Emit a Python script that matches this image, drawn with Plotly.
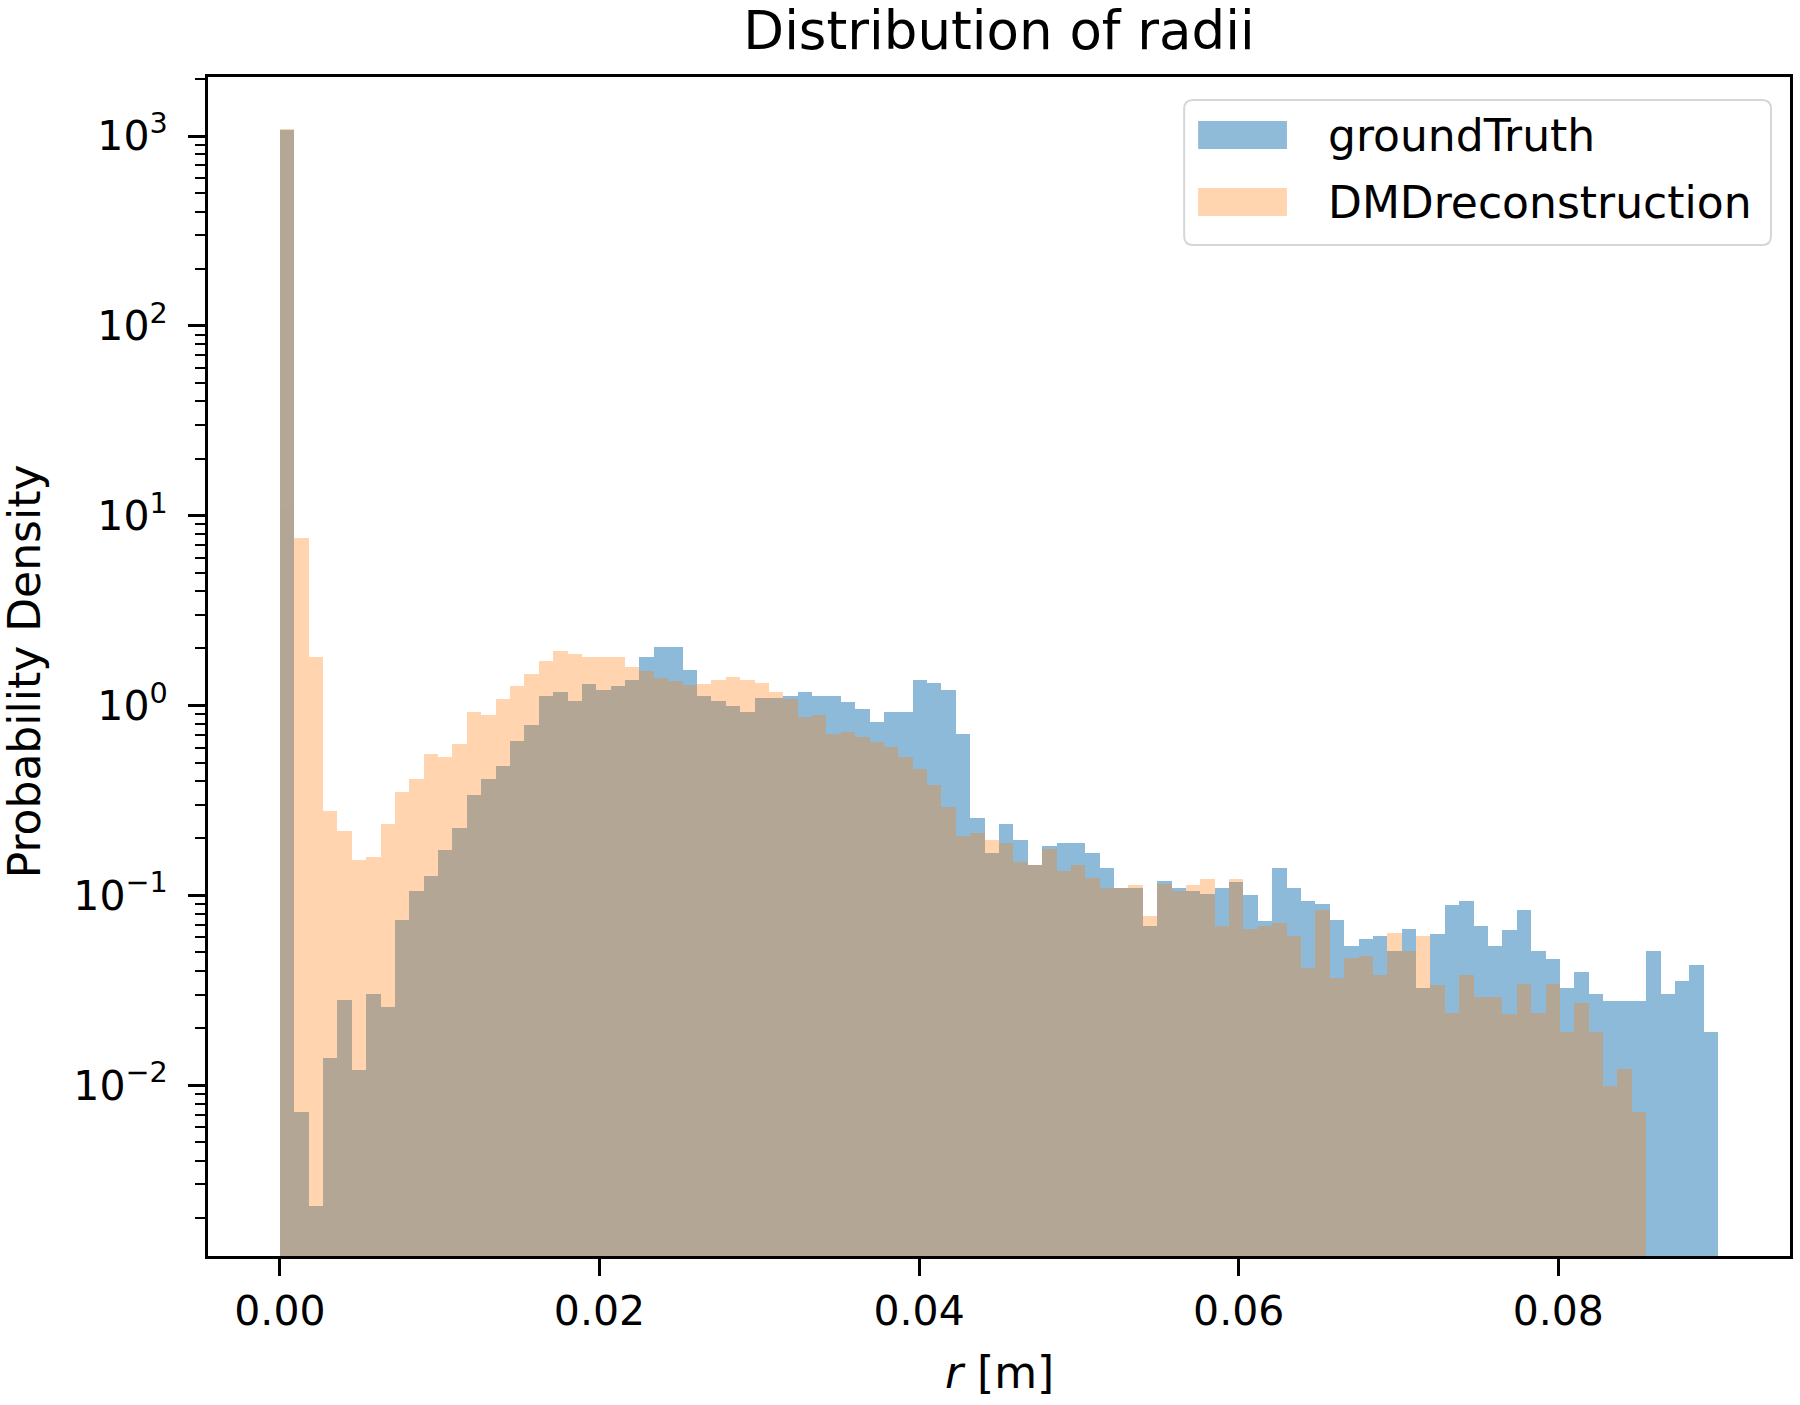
import plotly.graph_objects as go

# ---- data ----
BIN_WIDTH = 0.0009  # 100 bins from 0 to 0.09

ground_truth = [
    1080, 0.0072, 0.0023, 0.0139, 0.0281, 0.0120, 0.0304, 0.0258, 0.0737, 0.105,
    0.127, 0.173, 0.226, 0.337, 0.408, 0.478, 0.65, 0.79, 1.12, 1.18,
    1.05, 1.30, 1.21, 1.26, 1.37, 1.80, 2.03, 2.03, 1.54, 1.12,
    1.05, 1.00, 0.925, 1.09, 1.09, 1.12, 1.18, 1.12, 1.12, 1.04,
    0.959, 0.823, 0.925, 0.925, 1.37, 1.32, 1.21, 0.705, 0.257, 0.168,
    0.238, 0.196, 0.144, 0.182, 0.189, 0.189, 0.168, 0.139, 0.109, 0.109,
    0.0689, 0.119, 0.109, 0.106, 0.102, 0.109, 0.117, 0.1007, 0.0733, 0.139,
    0.109, 0.0937, 0.090, 0.074, 0.0538, 0.059, 0.0613, 0.0506, 0.0668, 0.0326,
    0.0628, 0.0891, 0.0937, 0.0689, 0.0544, 0.066, 0.0833, 0.0506, 0.0462, 0.0326,
    0.0396, 0.0303, 0.0279, 0.0279, 0.0279, 0.0506, 0.0303, 0.0354, 0.0428, 0.0191,
]

dmd_reconstruction = [
    1085, 7.6, 1.80, 0.278, 0.219, 0.154, 0.160, 0.239, 0.351, 0.408,
    0.557, 0.537, 0.627, 0.92, 0.89, 1.08, 1.26, 1.47, 1.71, 1.93,
    1.87, 1.80, 1.80, 1.80, 1.60, 1.52, 1.39, 1.35, 1.29, 1.30,
    1.36, 1.42, 1.37, 1.31, 1.18, 1.08, 0.866, 0.893, 0.705, 0.727,
    0.681, 0.646, 0.605, 0.535, 0.463, 0.381, 0.292, 0.206, 0.213, 0.196,
    0.189, 0.150, 0.144, 0.175, 0.134, 0.144, 0.124, 0.109, 0.109, 0.113,
    0.078, 0.115, 0.106, 0.113, 0.122, 0.0689, 0.122, 0.0668, 0.0689, 0.0714,
    0.0613, 0.0413, 0.0833, 0.0367, 0.0466, 0.0481, 0.038, 0.0634, 0.0506, 0.0613,
    0.0336, 0.024, 0.038, 0.0291, 0.0291, 0.0237, 0.034, 0.024, 0.034, 0.0191,
    0.027, 0.0191, 0.00993, 0.0121, 0.00722,
]

series_names = ["groundTruth", "DMDreconstruction"]
x_tick_vals = [0.0, 0.02, 0.04, 0.06, 0.08]
y_tick_vals = [1e-2, 1e-1, 1e0, 1e1, 1e2, 1e3]
y_tick_text = ["10<sup>−2</sup>", "10<sup>−1</sup>", "10<sup>0</sup>",
               "10<sup>1</sup>", "10<sup>2</sup>", "10<sup>3</sup>"]

# ---- styling ----
FONT = "DejaVu Sans"
BLUE = "rgba(31,119,180,0.5)"
ORANGE = "rgba(255,127,14,0.33)"
W, H = 1800, 1405
ML, MR, MT, MB = 208, 7, 77, 149
PW, PH = W - ML - MR, H - MT - MB


def px(xp):
    return (xp - ML) / PW


def py(yp):
    return (H - MB - yp) / PH


def centers(n):
    return [(i + 0.5) * BIN_WIDTH for i in range(n)]


fig = go.Figure()
fig.add_trace(go.Bar(
    x=centers(len(ground_truth)), y=ground_truth, width=BIN_WIDTH,
    name=series_names[0], marker=dict(color="rgb(31,119,180)", line=dict(width=0)),
    opacity=0.5, showlegend=False,
))
fig.add_trace(go.Bar(
    x=centers(len(dmd_reconstruction)), y=dmd_reconstruction, width=BIN_WIDTH,
    name=series_names[1], marker=dict(color="rgb(255,127,14)", line=dict(width=0)),
    opacity=0.33, showlegend=False,
))

minor_vals = []
for e in range(-3, 4):
    for m in range(2, 10):
        minor_vals.append(m * 10 ** e)

fig.update_layout(
    width=W, height=H,
    barmode="overlay", bargap=0,
    plot_bgcolor="white", paper_bgcolor="white",
    margin=dict(l=ML, r=MR, t=MT, b=MB),
    font=dict(family=FONT, size=41, color="black"),
    title=dict(text="Distribution of radii", x=0.555, xanchor="center",
               y=1 - 30 / H, yanchor="middle", yref="container",
               font=dict(size=53, family=FONT, color="black")),
    showlegend=False,
)

fig.update_xaxes(
    range=[-0.0045, 0.0945],
    tickvals=x_tick_vals, tickformat=".2f",
    ticks="outside", ticklen=17, tickwidth=3, tickcolor="black",
    showline=True, linecolor="black", linewidth=3, mirror=True,
    showgrid=False, zeroline=False,
    tickfont=dict(size=41, family=FONT),
)
fig.update_yaxes(
    type="log", range=[-2.9, 3.311],
    tickmode="array", tickvals=y_tick_vals, ticktext=y_tick_text,
    ticks="outside", ticklen=17, tickwidth=3, tickcolor="black",
    minor=dict(tickmode="array", tickvals=minor_vals, ticks="outside",
               ticklen=10, tickwidth=2, tickcolor="black", showgrid=False),
    showline=True, linecolor="black", linewidth=3, mirror=True,
    showgrid=False, zeroline=False,
    tickfont=dict(size=41, family=FONT),
    ticklabelstandoff=12,
)

# axis titles
fig.add_annotation(text="Probability Density", xref="paper", yref="paper",
                   x=px(25), y=py(671), xanchor="center", yanchor="middle",
                   textangle=-90, showarrow=False,
                   font=dict(size=44, family=FONT, color="black"))
fig.add_annotation(text="<i>r</i> [m]", xref="paper", yref="paper",
                   x=0.5, y=py(1372), xanchor="center", yanchor="middle",
                   showarrow=False, font=dict(size=44, family=FONT, color="black"))

# legend (matplotlib style: wide patches inside a rounded frame)
x0, x1, y0, y1, r = 1186, 1774, 100, 245, 9
rx, ry = r / PW, r / PH
X0, X1, Y0, Y1 = px(x0), px(x1), py(y0), py(y1)
path = (f"M {X0+rx},{Y0} L {X1-rx},{Y0} Q {X1},{Y0} {X1},{Y0-ry} "
        f"L {X1},{Y1+ry} Q {X1},{Y1} {X1-rx},{Y1} L {X0+rx},{Y1} "
        f"Q {X0},{Y1} {X0},{Y1+ry} L {X0},{Y0-ry} Q {X0},{Y0} {X0+rx},{Y0} Z")
fig.add_shape(type="path", path=path, xref="paper", yref="paper",
              fillcolor="rgba(255,255,255,0.8)", line=dict(color="#d6d6d6", width=2))
legend_rows = [(series_names[0], BLUE, 121, 149), (series_names[1], ORANGE, 188, 216)]
for name, col, ya, yb in legend_rows:
    fig.add_shape(type="rect", xref="paper", yref="paper",
                  x0=px(1200), x1=px(1289), y0=py(ya), y1=py(yb),
                  fillcolor=col, line=dict(width=0))
    fig.add_annotation(text=name, xref="paper", yref="paper",
                       x=px(1328), y=py((ya + yb) / 2 + 1), xanchor="left", yanchor="middle",
                       showarrow=False, font=dict(size=44, family=FONT, color="black"))

fig.write_html("out.html")
